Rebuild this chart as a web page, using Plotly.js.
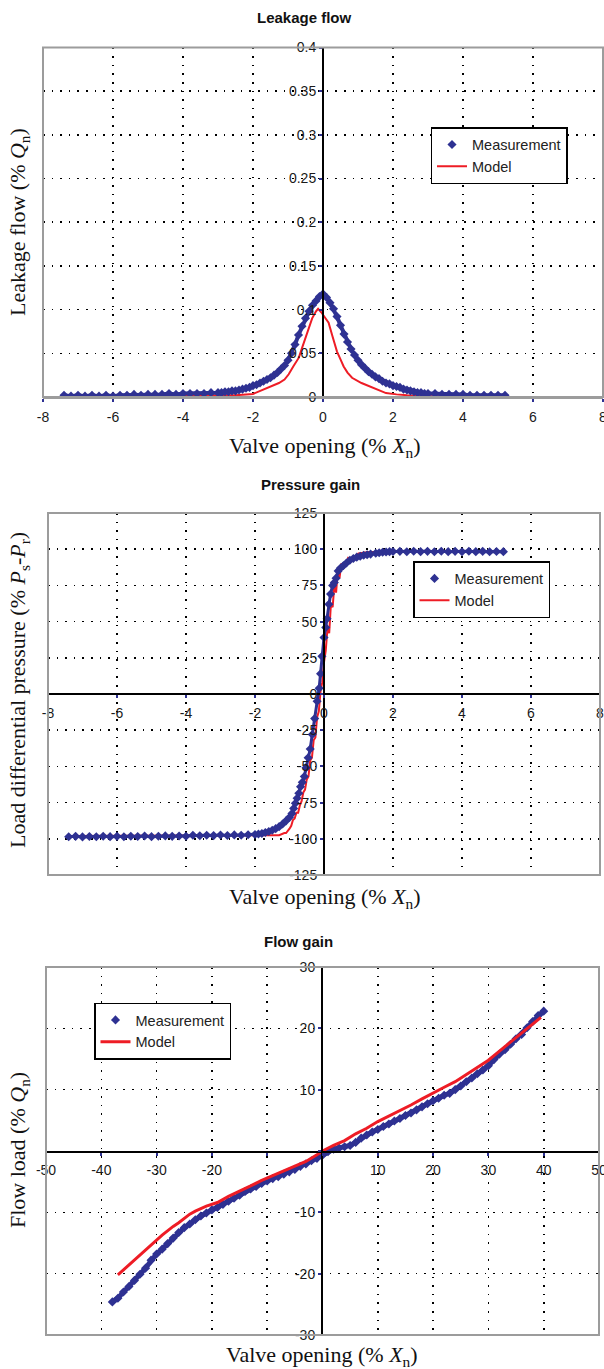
<!DOCTYPE html>
<html>
<head>
<meta charset="utf-8">
<script src="https://cdn.plot.ly/plotly-3.0.1.min.js"></script>
<style>html,body{margin:0;padding:0;background:#fff;}#chart{width:604px;height:1369px;}</style>
</head>
<body>
<div id="chart"></div>
<script>
// ---------- Data: Leakage flow ----------
const leakMeasX = [-7.4,-7.2,-7.0,-6.8,-6.6,-6.4,-6.2,-6.0,-5.8,-5.6,-5.4,-5.2,-5.0,-4.8,-4.6,-4.4,-4.2,-4.0,-3.8,-3.6,-3.4,-3.2,-3.0,
  -2.9,-2.8,-2.7,-2.6,-2.5,-2.4,-2.3,-2.2,-2.1,-2.0,-1.9,-1.8,-1.7,-1.6,-1.5,-1.4,-1.3,-1.2,-1.1,-1.0,-0.9,-0.8,-0.7,-0.6,-0.5,-0.4,-0.3,-0.2,-0.1,
  0.0,0.1,0.2,0.3,0.4,0.5,0.6,0.7,0.8,0.9,1.0,1.1,1.2,1.3,1.4,1.5,1.6,1.7,1.8,1.9,2.0,2.1,2.2,2.3,2.4,2.5,2.6,2.7,2.8,2.9,3.0,
  3.2,3.4,3.6,3.8,4.0,4.2,4.4,4.6,4.8,5.0,5.2];
const leakMeas = [0.002,0.001,0.002,0.001,0.002,0.001,0.002,0.001,0.002,0.002,0.003,0.002,0.003,0.003,0.003,0.004,0.003,0.004,0.004,0.004,0.004,0.005,0.005,
  0.005,0.006,0.006,0.007,0.007,0.008,0.009,0.010,0.011,0.013,0.014,0.016,0.018,0.020,0.022,0.025,0.028,0.032,0.036,0.042,0.050,0.060,0.071,0.081,0.090,0.098,0.105,0.110,0.115,
  0.118,0.114,0.108,0.101,0.092,0.082,0.072,0.063,0.055,0.048,0.042,0.037,0.033,0.029,0.026,0.023,0.021,0.018,0.016,0.015,0.013,0.012,0.011,0.009,0.008,0.007,0.006,0.005,0.005,0.004,0.004,
  0.004,0.003,0.003,0.003,0.003,0.002,0.002,0.002,0.002,0.002,0.002];
const leakModelX = [-7.4,-6,-5,-4,-3,-2.5,-2.0,-1.8,-1.55,-1.26,-1.1,-0.98,-0.85,-0.69,-0.6,-0.5,-0.4,-0.31,-0.2,-0.14,-0.05,0,0.08,0.16,0.26,0.4,0.5,0.59,0.7,0.83,1.1,1.4,1.6,1.8,2.1,2.4,3.0,4.0,5.2];
const leakModel = [0.001,0.001,0.001,0.0015,0.002,0.002,0.0035,0.007,0.011,0.016,0.020,0.026,0.035,0.045,0.056,0.067,0.079,0.090,0.098,0.101,0.097,0.094,0.090,0.085,0.071,0.052,0.043,0.035,0.028,0.022,0.016,0.011,0.007,0.0045,0.003,0.002,0.001,0.001,0.001];
const leakXTicks = [-8,-6,-4,-2,0,2,4,6,8];
const leakXText = ['-8','-6','-4','-2','0','2','4','6','8'];
const leakYTicks = [0,0.05,0.1,0.15,0.2,0.25,0.3,0.35,0.4];
const leakYText = ['0','0.05','0.1','0.15','0.2','0.25','0.3','0.35','0.4'];

// ---------- Data: Pressure gain ----------
const pressMeasX = [-7.4,-7.2,-7.0,-6.8,-6.6,-6.4,-6.2,-6.0,-5.8,-5.6,-5.4,-5.2,-5.0,-4.8,-4.6,-4.4,-4.2,-4.0,-3.8,-3.6,-3.4,-3.2,-3.0,-2.8,-2.6,-2.4,-2.2,
  -2.0,-1.9,-1.8,-1.7,-1.6,-1.5,-1.4,-1.3,-1.2,-1.1,-1.0,
  -0.93,-0.88,-0.83,-0.78,-0.73,-0.68,-0.63,-0.57,-0.52,-0.46,-0.40,-0.34,-0.27,-0.20,-0.14,-0.10,-0.06,0.0,0.05,0.09,0.14,0.19,0.25,0.30,0.35,0.41,0.48,0.56,0.65,0.75,0.85,0.95,1.05,1.15,1.25,1.35,1.5,1.6,1.7,1.8,1.9,2.0,
  2.2,2.4,2.6,2.8,3.0,3.2,3.4,3.6,3.8,4.0,4.2,4.4,4.6,4.8,5.0,5.2];
const pressMeas = [-98.6,-98.3,-98.7,-98.4,-98.6,-98.2,-98.5,-98.3,-98.6,-98.2,-98.4,-98.1,-98.5,-98.2,-98.0,-98.3,-98.1,-98.2,-97.6,-97.9,-97.5,-97.8,-97.4,-97.7,-97.3,-97.5,-97.2,
  -97.0,-96.7,-96.3,-95.7,-95.0,-94.1,-93.0,-91.6,-89.8,-87.6,-85.2,
  -82.5,-79,-75.5,-72,-68.5,-64,-61,-57,-51,-44,-38,-28,-17,-5,4,14,26,39,46,52,62,69,75,77,80,85,87,88.6,90.5,92.4,93.6,94.5,95.1,95.8,96.2,96.6,97.2,97.6,97.9,98.1,98.3,98.4,
  98.5,98.2,98.6,98.3,98.5,98.2,98.6,98.3,98.5,98.2,98.6,98.3,98.5,98.2,98.4,98.3];
const pressModelX = [-7.4,-2.0,-1.6,-1.3,-1.15,-1.1,-1.0,-0.95,-0.9,-0.85,-0.8,-0.75,-0.7,-0.65,-0.6,-0.55,-0.5,-0.45,-0.4,-0.35,-0.3,-0.25,-0.2,-0.15,-0.1,-0.05,0,0.05,0.1,0.15,0.2,0.25,0.3,0.35,0.4,0.45,0.5,0.6,0.7,0.8,1.0,1.3,2.0,5.2];
const pressModel = [-98,-98,-98,-97.5,-96,-96,-93,-91,-87,-86,-82,-82,-77,-74,-68,-66,-59,-57,-46,-44,-32,-30,-16,-12,2,8,22,30,45,42,62,60,75,70,85,80,90,88,94,93,97,98,98,98];
const pressXTicks = [-8,-6,-4,-2,0,2,4,6,8];
const pressXText = ['-8','-6','-4','-2','0','2','4','6','8'];
const pressYTicks = [-125,-100,-75,-50,-25,0,25,50,75,100,125];
const pressYText = ['-125','-100','-75','-50','-25','0','25','50','75','100','125'];

// ---------- Data: Flow gain ----------
const flowMeasX = [-38,-37,-36,-35,-34,-33,-32,-31,-30,-29,-28,-27,-26,-25,-24,-23,-22,-21,-20,-19,-18,-17,-16,-15,-14,-13,-12,-11,-10,-9,-8,-7,-6,-5,-4,-3,-2,-1,0,
  1,2,3,4,5,6,7,8,9,10,11,12,13,14,15,16,17,18,19,20,21,22,23,24,25,26,27,28,29,30,31,32,33,34,35,36,37,38,39,40];
const flowMeas = [-24.6,-24.0,-23.0,-22.1,-21.1,-20.1,-19.1,-17.8,-16.8,-16.0,-15.1,-14.2,-13.3,-12.5,-11.9,-11.2,-10.6,-10.1,-9.6,-9.2,-8.7,-8.2,-7.7,-7.2,-6.6,-6.2,-5.8,-5.3,-4.9,-4.5,-4.2,-3.8,-3.4,-3.0,-2.5,-2.1,-1.6,-1.2,-0.7,
  -0.1,0.3,0.5,0.7,0.9,1.4,2.1,2.6,3.1,3.5,4.0,4.4,4.9,5.3,5.8,6.2,6.7,7.2,7.7,8.2,8.6,9.1,9.4,10.0,10.6,11.3,11.9,12.6,13.2,13.9,14.9,15.8,16.5,17.4,18.3,19.0,20.1,21.1,22.1,22.8];
const flowModelX = [-37,-35,-33,-32,-30,-29,-27,-26,-24,-23,-21,-19,-17,-15,-13,-11,-9,-7,-5,-3,-1,0,2,4,6,8,10,12,14,16,18,20,22,24,26,28,30,32,34,36,38,39.5];
const flowModel = [-20.2,-18.6,-17.0,-16.1,-14.5,-13.7,-12.3,-11.7,-10.3,-9.8,-9.0,-8.4,-7.4,-6.6,-5.7,-4.8,-4.0,-3.3,-2.5,-1.7,-0.6,0,0.9,1.7,2.8,3.7,4.8,5.7,6.5,7.5,8.5,9.5,10.4,11.3,12.5,13.6,14.8,16.3,17.8,19.2,20.8,21.8];
const flowXTicks = [-50,-40,-30,-20,10,20,30,40,50];
const flowXText = ['-50','-40','-30','-20','10','20','30','40','50'];
const flowXUnlabelled = [-10,0];
const flowYTicks = [-30,-20,-10,10,20,30];
const flowYText = ['-30','-20','-10','10','20','30'];
const flowYUnlabelled = [0];

const titles = ['<b>Leakage flow</b>','<b>Pressure gain</b>','<b>Flow gain</b>'];
const xTitle = 'Valve opening (% <i>X</i><sub>n</sub>)';
const yTitles = ['Leakage flow (% <i>Q</i><sub>n</sub>)',
  'Load differential pressure (% <i>P</i><sub>s</sub>-<i>P</i><sub>r</sub>)',
  'Flow load (% <i>Q</i><sub>n</sub>)'];
const seriesNames = ['Measurement','Model'];

// ---------- Layout helpers ----------
const W = 604, H = 1369;
const fx = p => p / W;
const fy = p => 1 - p / H;
const BLUE = '#2e3192', RED = '#ee1c25';
const SANS = 'Liberation Sans, Arial, sans-serif';
const SERIF = 'Liberation Serif, Times New Roman, serif';
const tickFont = {family: SANS, size: 14, color: '#1a1a1a'};
const GRID = {showgrid: true, gridcolor: '#000', gridwidth: 1.6, griddash: '1.6px,7px', zeroline: false};

function xAx(dom, range, vals, text, free, pos, linecolor, extra) {
  const a = Object.assign({domain: dom, range: range, tickmode: 'array', tickvals: vals, ticktext: text,
    ticks: 'outside', ticklen: 3, tickwidth: 2, tickcolor: BLUE, tickfont: tickFont, ticklabeloverflow: 'allow',
    ticklabelstandoff: 3,
    showline: true, linecolor: linecolor, linewidth: 2, fixedrange: true, automargin: false}, GRID);
  if (free) { a.anchor = 'free'; a.position = pos; }
  if (extra) a.minor = {tickmode: 'array', tickvals: extra, ticks: 'outside', ticklen: 3, tickwidth: 2, tickcolor: BLUE,
    showgrid: true, gridcolor: '#000', gridwidth: 1.6, griddash: '1.6px,7px'};
  return a;
}
function yAx(dom, range, vals, text, pos, extra) {
  const a = Object.assign({domain: dom, range: range, tickmode: 'array', tickvals: vals, ticktext: text,
    ticks: 'outside', ticklen: 3, tickwidth: 2, tickcolor: BLUE, tickfont: tickFont, ticklabeloverflow: 'allow',
    showline: true, linecolor: '#000', linewidth: 2, anchor: 'free', position: pos,
    fixedrange: true, automargin: false}, GRID);
  if (extra) a.minor = {tickmode: 'array', tickvals: extra, ticks: 'outside', ticklen: 3, tickwidth: 2, tickcolor: BLUE,
    showgrid: false};
  return a;
}

function band(x, y, xa, ya, w) {
  return {x: x, y: y, xaxis: xa, yaxis: ya, mode: 'lines', line: {color: BLUE, width: w}, showlegend: false, hoverinfo: 'skip'};
}
function meas(x, y, xa, ya, lg) {
  return {x: x, y: y, xaxis: xa, yaxis: ya, mode: 'markers', name: seriesNames[0], legend: lg, legendrank: 1,
    marker: {symbol: 'diamond', size: 7, color: BLUE}};
}
function model(x, y, xa, ya, lg, w) {
  return {x: x, y: y, xaxis: xa, yaxis: ya, mode: 'lines', name: seriesNames[1], legend: lg, legendrank: 2,
    line: {color: RED, width: w}};
}

const traces = [
  // chart 1 (model under measurement)
  model(leakModelX, leakModel, 'x', 'y', 'legend', 2),
  band(leakMeasX, leakMeas, 'x', 'y', 4),
  meas(leakMeasX, leakMeas, 'x', 'y', 'legend'),
  // chart 2
  model(pressModelX, pressModel, 'x2', 'y2', 'legend2', 2),
  band(pressMeasX, pressMeas, 'x2', 'y2', 3),
  meas(pressMeasX, pressMeas, 'x2', 'y2', 'legend2'),
  // chart 3 (model on top)
  band(flowMeasX, flowMeas, 'x3', 'y3', 5),
  meas(flowMeasX, flowMeas, 'x3', 'y3', 'legend3'),
  model(flowModelX, flowModel, 'x3', 'y3', 'legend3', 3)
];

const legendBase = {bgcolor: '#fff', bordercolor: '#000', borderwidth: 1.5, itemsizing: 'trace',
  font: {family: SANS, size: 14.5, color: '#222'}, xanchor: 'left', yanchor: 'top', traceorder: 'normal'};

const D1x = [fx(43), fx(603)], D1y = [fy(397), fy(47.5)];
const D2x = [fx(48), fx(600)], D2y = [fy(875), fy(513)];
const D3x = [fx(46), fx(599)], D3y = [fy(1335), fy(967)];

function frame(xr, yr) {
  return {type: 'rect', xref: xr + ' domain', yref: yr + ' domain', x0: 0, x1: 1, y0: 0, y1: 1,
    line: {color: '#9c9c9c', width: 2}, layer: 'above'};
}
function ann(text, x, y, font, angle) {
  return {text: text, x: fx(x), y: fy(y), xref: 'paper', yref: 'paper', xanchor: 'center', yanchor: 'middle',
    showarrow: false, font: font, textangle: angle || 0};
}
const titleFont = {family: SANS, size: 15, color: '#111'};
const axTitleFont = {family: SERIF, size: 22, color: '#111'};

const layout = {
  width: W, height: H, autosize: false,
  margin: {l: 0, r: 0, t: 0, b: 0},
  paper_bgcolor: '#fff', plot_bgcolor: '#fff',
  showlegend: true,
  xaxis: xAx(D1x, [-8, 8], leakXTicks, leakXText, false, 0, '#9c9c9c'),
  yaxis: yAx(D1y, [0, 0.4], leakYTicks, leakYText, fx(323)),
  xaxis2: xAx(D2x, [-8, 8], pressXTicks, pressXText, true, fy(694), '#000'),
  yaxis2: yAx(D2y, [-125, 125], pressYTicks, pressYText, fx(324)),
  xaxis3: xAx(D3x, [-50, 50], flowXTicks, flowXText, true, fy(1151.5), '#000', flowXUnlabelled),
  yaxis3: yAx(D3y, [-30, 30], flowYTicks, flowYText, fx(322), flowYUnlabelled),
  legend: Object.assign({}, legendBase, {x: fx(430.5), y: fy(127)}),
  legend2: Object.assign({}, legendBase, {x: fx(413), y: fy(561)}),
  legend3: Object.assign({}, legendBase, {x: fx(94), y: fy(1002.5)}),
  shapes: [frame('x', 'y'), frame('x2', 'y2'), frame('x3', 'y3')],
  annotations: [
    ann(titles[0], 304, 17, titleFont),
    ann(titles[1], 310, 485, titleFont),
    ann(titles[2], 298, 941, titleFont),
    ann(xTitle, 325, 447, axTitleFont),
    ann(xTitle, 325, 898, axTitleFont),
    ann(xTitle, 322, 1356, axTitleFont),
    ann(yTitles[0], 19, 222, axTitleFont, -90),
    ann(yTitles[1], 19, 690, axTitleFont, -90),
    ann(yTitles[2], 19, 1150, axTitleFont, -90)
  ]
};

Plotly.newPlot('chart', traces, layout, {displayModeBar: false, staticPlot: true});
</script>
</body>
</html>
